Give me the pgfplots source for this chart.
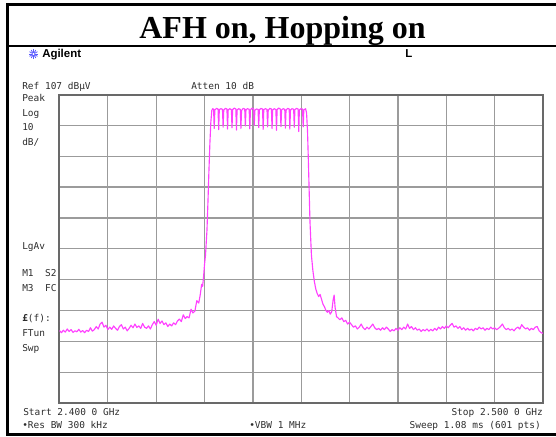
\documentclass[border=0pt]{standalone}
\usepackage{pgfplots}
\pgfplotsset{compat=1.18}
\usepackage{fontspec}
\setmainfont{Liberation Serif}
\newfontfamily\scr{DejaVu Sans Mono}
\newfontfamily\ag{Liberation Sans}
\definecolor{trace}{RGB}{255,64,255}
\definecolor{gridc}{RGB}{155,155,155}
\definecolor{framec}{RGB}{105,105,105}
\definecolor{txt}{RGB}{45,45,45}
\definecolor{agblue}{RGB}{90,90,255}
\pgfplotstableread{
f v
2400.0 30.5
2400.4 29.8
2400.8 30.6
2401.2 30.0
2401.6 31.0
2402.0 30.2
2402.4 30.8
2402.8 29.9
2403.2 30.4
2403.6 30.1
2404.0 30.9
2404.4 30.0
2404.8 30.5
2405.2 29.8
2405.6 30.6
2406.0 30.2
2406.4 31.4
2406.8 30.3
2407.2 30.8
2407.6 31.8
2408.0 31.0
2408.4 32.6
2408.8 33.2
2409.2 31.6
2409.6 32.2
2410.0 30.8
2410.4 31.6
2410.8 30.9
2411.2 32.0
2411.6 31.2
2412.0 30.6
2412.4 31.8
2412.8 32.4
2413.2 31.0
2413.6 31.6
2414.0 30.4
2414.4 31.2
2414.8 32.2
2415.2 31.4
2415.6 32.6
2416.0 31.5
2416.4 32.0
2416.8 31.2
2417.2 32.8
2417.6 31.6
2418.0 31.2
2418.4 32.0
2418.8 31.0
2419.2 32.4
2419.6 33.4
2420.0 32.2
2420.4 34.2
2420.8 32.8
2421.2 33.6
2421.6 32.4
2422.0 33.0
2422.4 31.8
2422.8 32.6
2423.2 32.0
2423.6 33.0
2424.0 32.4
2424.4 33.6
2424.8 34.2
2425.2 33.4
2425.6 35.6
2426.0 34.4
2426.4 35.0
2426.8 34.6
2427.2 37.4
2427.6 36.2
2428.0 36.8
2428.4 40.2
2428.8 39.4
2429.1 42.0
2429.4 45.5
2429.6 44.8
2429.8 48.0
2430.0 52.0
2430.2 55.0
2430.5 63.0
2430.7 72.0
2430.9 82.0
2431.1 91.0
2431.3 98.0
2431.5 101.8
2431.7 102.4
2431.87 102.2
2432.00 96.0
2432.13 102.0
2432.46 102.5
2432.79 102.3
2432.92 95.6
2433.05 102.1
2433.38 102.4
2433.71 102.2
2433.84 96.4
2433.97 101.9
2434.30 102.5
2434.63 102.3
2434.76 95.8
2434.89 102.0
2435.22 102.4
2435.55 102.1
2435.68 96.2
2435.81 102.1
2436.14 102.6
2436.47 102.3
2436.60 95.5
2436.73 102.0
2437.06 102.4
2437.39 102.2
2437.52 96.0
2437.65 101.8
2437.98 102.5
2438.31 102.3
2438.44 96.8
2438.57 102.1
2438.90 102.4
2439.23 102.2
2439.36 95.9
2439.49 102.0
2439.82 102.6
2440.15 102.4
2440.28 97.0
2440.41 101.9
2440.74 102.3
2441.07 102.2
2441.20 96.3
2441.33 102.0
2441.66 102.5
2441.99 102.3
2442.12 95.7
2442.25 102.1
2442.58 102.4
2442.91 102.2
2443.04 96.5
2443.17 101.9
2443.50 102.5
2443.83 102.3
2443.96 96.0
2444.09 102.0
2444.42 102.4
2444.75 102.1
2444.88 95.4
2445.01 102.1
2445.34 102.6
2445.67 102.3
2445.80 96.6
2445.93 102.0
2446.26 102.4
2446.59 102.2
2446.72 96.1
2446.85 101.9
2447.18 102.5
2447.51 102.3
2447.64 95.8
2447.77 102.0
2448.10 102.4
2448.43 102.2
2448.56 96.4
2448.69 102.1
2449.02 102.5
2449.35 102.3
2449.48 95.0
2449.61 102.0
2449.94 102.4
2450.27 102.3
2450.40 96.5
2450.53 102.0
2450.90 102.4
2451.10 101.0
2451.3 95.0
2451.5 84.0
2451.8 66.0
2452.1 55.0
2452.4 50.0
2452.7 46.5
2453.0 44.0
2453.3 42.5
2453.6 41.5
2453.9 42.2
2454.2 40.6
2454.5 39.0
2454.8 38.2
2455.1 37.0
2455.4 36.4
2455.7 37.0
2456.0 35.8
2456.3 36.6
2456.6 40.5
2456.8 42.0
2457.0 38.0
2457.3 35.0
2457.6 34.6
2458.0 34.0
2458.4 34.6
2458.8 33.4
2459.2 33.8
2459.6 32.6
2460.0 33.2
2460.4 32.4
2460.8 31.6
2461.2 32.0
2461.6 31.0
2462.0 31.6
2462.4 32.6
2462.8 31.4
2463.2 30.8
2463.6 31.6
2464.0 31.0
2464.4 31.8
2464.8 32.6
2465.2 31.4
2465.6 30.8
2466.0 31.2
2466.4 30.6
2466.8 31.4
2467.2 30.8
2467.6 31.6
2468.0 31.0
2468.4 30.2
2468.8 30.8
2469.2 30.4
2469.6 31.2
2470.0 30.6
2470.4 31.4
2470.8 30.8
2471.2 31.6
2471.6 31.0
2472.0 32.6
2472.4 31.2
2472.8 31.8
2473.2 30.8
2473.6 31.4
2474.0 30.6
2474.4 31.0
2474.8 30.2
2475.2 30.8
2475.6 30.4
2476.0 31.0
2476.4 30.3
2476.8 30.9
2477.2 30.4
2477.6 31.2
2478.0 30.6
2478.4 31.6
2478.8 31.0
2479.2 31.8
2479.6 31.2
2480.0 32.0
2480.4 31.4
2480.8 32.2
2481.2 32.8
2481.6 31.6
2482.0 32.0
2482.4 31.2
2482.8 31.8
2483.2 30.8
2483.6 31.4
2484.0 30.6
2484.4 31.2
2484.8 30.6
2485.2 31.0
2485.6 30.4
2486.0 31.2
2486.4 30.8
2486.8 31.6
2487.2 31.0
2487.6 31.4
2488.0 30.6
2488.4 31.2
2488.8 30.8
2489.2 31.6
2489.6 31.0
2490.0 31.4
2490.4 30.8
2490.8 31.2
2491.2 31.8
2491.6 32.6
2492.0 31.4
2492.4 30.8
2492.8 31.2
2493.2 30.6
2493.6 31.0
2494.0 30.4
2494.4 31.2
2494.8 31.6
2495.2 31.0
2495.6 32.4
2496.0 31.6
2496.4 31.0
2496.8 31.4
2497.2 30.6
2497.6 31.2
2498.0 30.8
2498.4 31.6
2498.8 31.8
2499.2 30.4
2499.6 29.8
2500.0 29.6
}\trace
\begin{document}
\begin{tikzpicture}
\useasboundingbox (0,0) rectangle (417pt,-327pt);
\begin{scope}[x=0.75pt,y=-0.75pt]
  % frame
  \draw[line width=2.2pt] (7.5,4.5) -- (560,4.5);
  \draw[line width=2.2pt] (7.5,46) -- (560,46);
  \draw[line width=2.2pt] (7.5,434.5) -- (560,434.5);
  \draw[line width=2.2pt] (7.5,3) -- (7.5,436);
  % title
  \node[anchor=base, inner sep=0pt, font=\fontsize{24pt}{24pt}\selectfont\bfseries] at (282.5,38) {AFH on, Hopping on};
  % Agilent logo
  \foreach \a in {0,30,...,330} {\draw[agblue, line width=0.6pt] (33.5,54) -- ++(\a:4.6);}
  \fill[white] (33.5,54) circle (1.2);
  \node[anchor=mid west, inner sep=0pt, font=\ag\bfseries\fontsize{8.6pt}{9pt}\selectfont, text=black] at (42,54) {Agilent};
  \node[anchor=mid west, inner sep=0pt, font=\ag\bfseries\fontsize{8.6pt}{9pt}\selectfont, text=black] at (405,54) {L};
  % screen texts
  \begin{scope}[every node/.style={inner sep=0pt, text=txt, font=\scr\fontsize{7.1pt}{8pt}\selectfont}]
    \node[anchor=mid west] at (22,86) {Ref 107 dBµV};
    \node[anchor=mid west] at (191,86) {Atten 10 dB};
    \node[anchor=mid west] at (22,98.5) {Peak};
    \node[anchor=mid west] at (22,113) {Log};
    \node[anchor=mid west] at (22,127.5) {10};
    \node[anchor=mid west] at (22,142) {dB/};
    \node[anchor=mid west] at (22,246.5) {LgAv};
    \node[anchor=mid west] at (22,273) {M1\ \ S2};
    \node[anchor=mid west] at (22,288.5) {M3\ \ FC};
    \node[anchor=mid west] at (22,318) {\textbf{£}(f):};
    \node[anchor=mid west] at (22,333) {FTun};
    \node[anchor=mid west] at (22,348) {Swp};
    \node[anchor=mid west] at (23,412.5) {Start 2.400 0 GHz};
    \node[anchor=mid west] at (22,425.5) {•Res BW 300 kHz};
    \node[anchor=mid west] at (249,425.5) {•VBW 1 MHz};
    \node[anchor=mid east] at (543,412.5) {Stop 2.500 0 GHz};
    \node[anchor=mid east] at (541,425.5) {Sweep 1.08 ms (601 pts)};
  \end{scope}
\end{scope}
\begin{axis}[
  at={(44.625pt,-70.875pt)}, anchor=north west,
  scale only axis, width=362.625pt, height=231.4pt,
  xmin=2400, xmax=2500, ymin=7, ymax=107,
  xtick={2400,2410,...,2500}, ytick={7,17,...,107},
  xticklabels={}, yticklabels={},
  major tick length=0pt,
  grid=major, grid style={gridc, line width=0.95pt},
  axis line style={framec, line width=1.5pt},
  clip=true]
\addplot[trace, line width=0.85pt, line join=round] table[x=f, y=v] {\trace};
\end{axis}
\end{tikzpicture}
\end{document}
